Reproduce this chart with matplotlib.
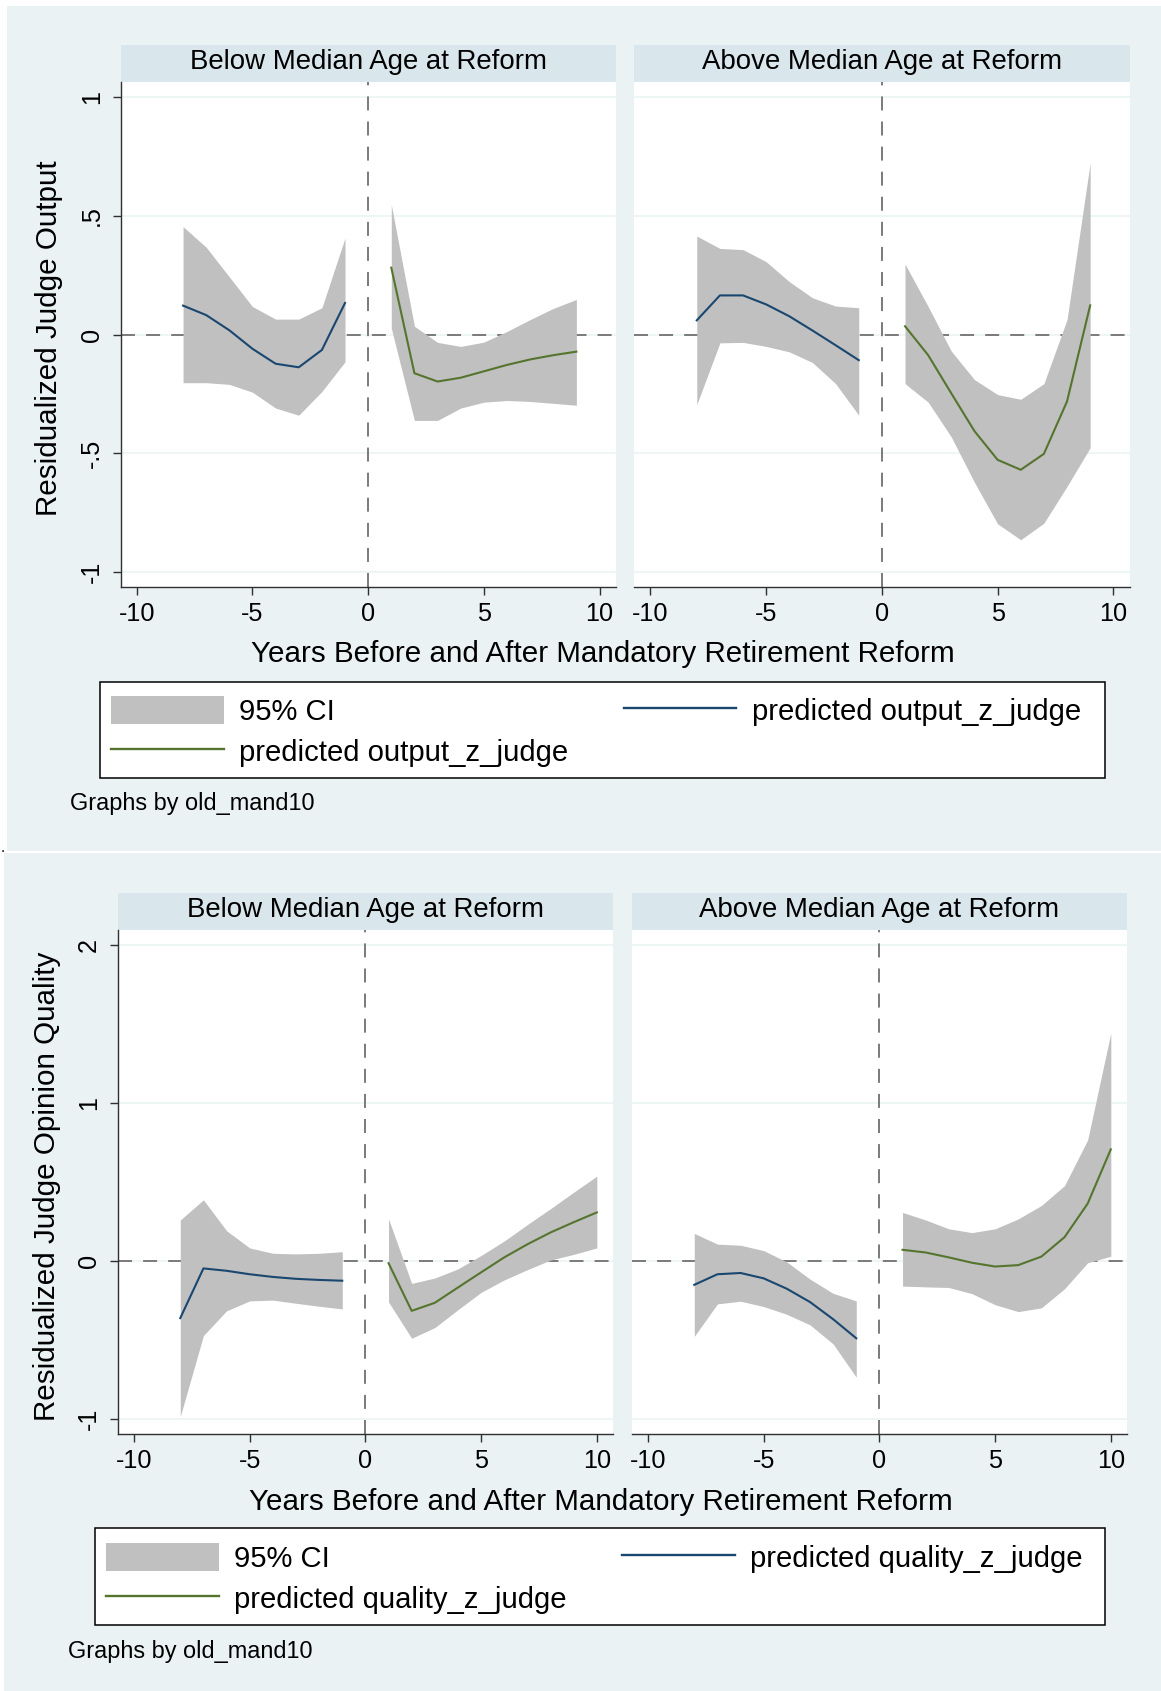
import matplotlib.pyplot as plt
from matplotlib.lines import Line2D
from matplotlib.patches import Patch, Rectangle

W, H = 1161, 1691

BG = "#eaf2f3"
STRIP = "#d9e6eb"
CI_GRAY = "#c0c0c0"
NAVY = "#1a476f"
GREEN = "#55752f"
REF = "#7a7a7a"
AXIS = "#303030"

PANEL_TITLES = ["Below Median Age at Reform", "Above Median Age at Reform"]
X_TITLE = "Years Before and After Mandatory Retirement Reform"
XTICKS = [-10, -5, 0, 5, 10]
XTICK_LABELS = ["-10", "-5", "0", "5", "10"]

YEARS_PRE = [-8, -7, -6, -5, -4, -3, -2, -1]
YEARS_POST_OUT = [1, 2, 3, 4, 5, 6, 7, 8, 9]
YEARS_POST_QUAL = [1, 2, 3, 4, 5, 6, 7, 8, 9, 10]

# judge output, below median age
out_below_pre_fit = [0.122, 0.082, 0.018, -0.060, -0.123, -0.138, -0.065, 0.133]
out_below_pre_hi = [0.455, 0.368, 0.243, 0.118, 0.065, 0.065, 0.113, 0.407]
out_below_pre_lo = [-0.203, -0.203, -0.210, -0.243, -0.310, -0.340, -0.240, -0.115]
out_below_post_fit = [0.282, -0.163, -0.198, -0.182, -0.155, -0.128, -0.105, -0.087, -0.072]
out_below_post_hi = [0.548, 0.035, -0.033, -0.050, -0.032, 0.013, 0.063, 0.110, 0.148]
out_below_post_lo = [0.027, -0.362, -0.362, -0.310, -0.285, -0.278, -0.282, -0.290, -0.298]

# judge output, above median age
out_above_pre_fit = [0.060, 0.165, 0.165, 0.127, 0.077, 0.017, -0.045, -0.108]
out_above_pre_hi = [0.415, 0.363, 0.358, 0.307, 0.223, 0.155, 0.120, 0.113]
out_above_pre_lo = [-0.295, -0.035, -0.033, -0.050, -0.073, -0.118, -0.207, -0.340]
out_above_post_fit = [0.035, -0.087, -0.248, -0.407, -0.528, -0.570, -0.503, -0.282, 0.123]
out_above_post_hi = [0.297, 0.118, -0.070, -0.190, -0.253, -0.273, -0.207, 0.063, 0.723]
out_above_post_lo = [-0.207, -0.285, -0.432, -0.623, -0.798, -0.865, -0.795, -0.640, -0.477]

# opinion quality, below median age
q_below_pre_fit = [-0.363, -0.048, -0.063, -0.085, -0.102, -0.114, -0.121, -0.126]
q_below_pre_hi = [0.259, 0.387, 0.191, 0.082, 0.048, 0.044, 0.048, 0.058]
q_below_pre_lo = [-0.987, -0.474, -0.317, -0.254, -0.249, -0.269, -0.288, -0.305]
q_below_post_fit = [-0.015, -0.317, -0.266, -0.169, -0.073, 0.022, 0.105, 0.180, 0.245, 0.307]
q_below_post_hi = [0.266, -0.143, -0.109, -0.051, 0.034, 0.126, 0.230, 0.331, 0.435, 0.537]
q_below_post_lo = [-0.261, -0.491, -0.423, -0.310, -0.200, -0.121, -0.056, 0.005, 0.041, 0.082]

# opinion quality, above median age
q_above_pre_fit = [-0.152, -0.085, -0.077, -0.111, -0.177, -0.261, -0.370, -0.491]
q_above_pre_hi = [0.174, 0.106, 0.099, 0.065, -0.007, -0.116, -0.206, -0.254]
q_above_pre_lo = [-0.479, -0.273, -0.256, -0.290, -0.339, -0.406, -0.527, -0.738]
q_above_post_fit = [0.070, 0.053, 0.022, -0.012, -0.036, -0.027, 0.027, 0.150, 0.363, 0.707]
q_above_post_hi = [0.307, 0.259, 0.203, 0.179, 0.203, 0.266, 0.351, 0.477, 0.767, 1.444]
q_above_post_lo = [-0.160, -0.165, -0.169, -0.208, -0.278, -0.322, -0.298, -0.177, -0.012, 0.029]

OUT_YTICKS = [-1, -0.5, 0, 0.5, 1]
OUT_YTICK_LABELS = ["-1", "-.5", "0", ".5", "1"]
QUAL_YTICKS = [-1, 0, 1, 2]
QUAL_YTICK_LABELS = ["-1", "0", "1", "2"]

plt.rcParams["font.family"] = ["Liberation Sans", "DejaVu Sans"]

TICK_FS = 18.2
TITLE_FS = 21.3
LEGEND_FS = 21.1
STRIP_FS = 19.9
NOTE_FS = 16.9


def fx(x):
    return x / W


def fy(y):
    return 1 - y / H


def px_box(l, t, r, b):
    return [l / W, 1 - b / H, (r - l) / W, (b - t) / H]


def fig_rect(fig, l, t, r, b, **kw):
    fig.add_artist(Rectangle((fx(l), fy(b)), (r - l) / W, (b - t) / H,
                             transform=fig.transFigure, **kw))


def draw_panel(fig, box, strip_top, title, pre, post, ylim, yticks, yticklabels, show_y):
    l, t, r, b = box
    strip = fig.add_axes(px_box(l, strip_top, r, t))
    strip.set_facecolor(STRIP)
    strip.set_xticks([])
    strip.set_yticks([])
    for sp in strip.spines.values():
        sp.set_visible(False)
    fig.text(fx((l + r) / 2), fy(strip_top + 24.7), title, ha="center",
             va="baseline", fontsize=STRIP_FS)

    ax = fig.add_axes(px_box(l, t, r, b))
    ax.set_facecolor("white")
    ax.set_xlim(-10.7, 10.7)
    ax.set_ylim(*ylim)
    ax.set_axisbelow(True)
    ax.grid(axis="y", color=BG, linewidth=1.1)
    ax.grid(axis="x", visible=False)

    ax.axhline(0, color=REF, linewidth=1.4, linestyle=(0, (7.2, 5.7)), zorder=1)
    ax.axvline(0, color=REF, linewidth=1.4, linestyle=(0, (7.2, 5.7)), zorder=1)

    for (xs, fit, lo, hi), color in zip([pre, post], [NAVY, GREEN]):
        ax.fill_between(xs, lo, hi, color=CI_GRAY, linewidth=0, zorder=2)
        ax.plot(xs, fit, color=color, linewidth=1.5, zorder=3)

    for side in ["top", "right"]:
        ax.spines[side].set_visible(False)
    ax.spines["bottom"].set_color(AXIS)
    ax.spines["bottom"].set_linewidth(1.0)
    ax.set_xticks(XTICKS, XTICK_LABELS)
    ax.tick_params(axis="x", direction="out", length=5.8, width=1.0, color=AXIS,
                   pad=4.8, labelsize=TICK_FS)
    ax.set_yticks(yticks)
    if show_y:
        ax.spines["left"].set_color(AXIS)
        ax.spines["left"].set_linewidth(1.0)
        ax.set_yticks(yticks, yticklabels, rotation=90, va="center", ha="right")
        ax.tick_params(axis="y", direction="out", length=5.8, width=1.0, color=AXIS,
                       pad=6.3, labelsize=TICK_FS)
    else:
        ax.spines["left"].set_visible(False)
        ax.tick_params(axis="y", left=False, labelleft=False)
    return ax


def draw_graph(fig, lay, ylabel, ylim, yticks, yticklabels, below, above, var_label):
    fig_rect(fig, *lay["bg"], facecolor=BG, edgecolor="none", zorder=0)

    draw_panel(fig, lay["left"], lay["strip_top"], PANEL_TITLES[0], below[0], below[1],
               ylim, yticks, yticklabels, True)
    draw_panel(fig, lay["right"], lay["strip_top"], PANEL_TITLES[1], above[0], above[1],
               ylim, yticks, yticklabels, False)

    l, t, r, b = lay["left"]
    fig.text(fx(lay["ylabel_x"]), fy((t + b) / 2 + 4), ylabel, rotation=90,
             rotation_mode="anchor", ha="center", va="baseline", fontsize=TITLE_FS)
    fig.text(fx(lay["xtitle"][0]), fy(lay["xtitle"][1]), X_TITLE, ha="center",
             va="baseline", fontsize=TITLE_FS)

    fig_rect(fig, *lay["legend_box"], facecolor="white", edgecolor="black",
             linewidth=1.1, zorder=1)
    handles = [
        Patch(facecolor=CI_GRAY, edgecolor="none"),
        Line2D([], [], color=GREEN, linewidth=1.7),
        Line2D([], [], color=NAVY, linewidth=1.7),
    ]
    labels = ["95% CI", var_label, var_label]
    ax_x, ax_y = lay["legend_anchor"]
    leg = fig.legend(handles, labels, loc="upper left",
                     bbox_to_anchor=(fx(ax_x), fy(ax_y)), bbox_transform=fig.transFigure,
                     ncol=2, frameon=False, borderpad=0, borderaxespad=0,
                     handlelength=3.84, handleheight=1.09, handletextpad=0.53,
                     columnspacing=1.9, labelspacing=0.39, fontsize=LEGEND_FS)
    leg.set_zorder(2)

    fig.text(fx(lay["note"][0]), fy(lay["note"][1]), "Graphs by old_mand10",
             ha="left", va="baseline", fontsize=NOTE_FS)


TOP = {
    "bg": (7, 6, W, 851),
    "left": (120.6, 81.9, 615.7, 587.2),
    "right": (634.3, 81.9, 1129.5, 587.2),
    "strip_top": 44.7,
    "ylabel_x": 57.5,
    "xtitle": (603, 662),
    "legend_box": (100, 681.7, 1105.4, 777.7),
    "legend_anchor": (111, 696),
    "note": (70, 810),
}

BOTTOM = {
    "bg": (4, 852.7, W, H),
    "left": (117.8, 930, 613, 1434),
    "right": (631.8, 930, 1127, 1434),
    "strip_top": 892.5,
    "ylabel_x": 54.7,
    "xtitle": (600.5, 1509.8),
    "legend_box": (95, 1528.3, 1105, 1625),
    "legend_anchor": (106, 1543),
    "note": (68, 1657.8),
}

fig = plt.figure(figsize=(W / 100, H / 100), dpi=100)
fig.patch.set_facecolor("white")

draw_graph(
    fig, TOP, "Residualized Judge Output", (-1.065, 1.065), OUT_YTICKS, OUT_YTICK_LABELS,
    ((YEARS_PRE, out_below_pre_fit, out_below_pre_lo, out_below_pre_hi),
     (YEARS_POST_OUT, out_below_post_fit, out_below_post_lo, out_below_post_hi)),
    ((YEARS_PRE, out_above_pre_fit, out_above_pre_lo, out_above_pre_hi),
     (YEARS_POST_OUT, out_above_post_fit, out_above_post_lo, out_above_post_hi)),
    "predicted output_z_judge",
)

draw_graph(
    fig, BOTTOM, "Residualized Judge Opinion Quality", (-1.098, 2.098), QUAL_YTICKS,
    QUAL_YTICK_LABELS,
    ((YEARS_PRE, q_below_pre_fit, q_below_pre_lo, q_below_pre_hi),
     (YEARS_POST_QUAL, q_below_post_fit, q_below_post_lo, q_below_post_hi)),
    ((YEARS_PRE, q_above_pre_fit, q_above_pre_lo, q_above_pre_hi),
     (YEARS_POST_QUAL, q_above_post_fit, q_above_post_lo, q_above_post_hi)),
    "predicted quality_z_judge",
)

fig.text(fx(1), fy(852), ".", ha="left", va="baseline", fontsize=11)

fig.savefig("out.png", dpi=100, facecolor="white")
